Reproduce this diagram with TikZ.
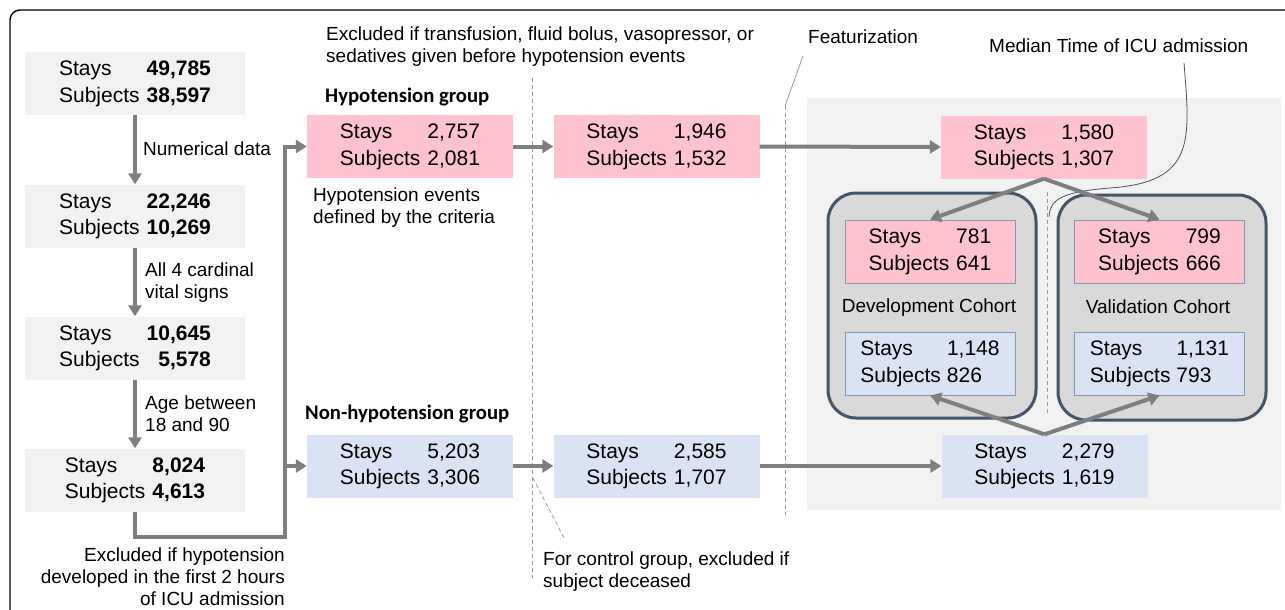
\documentclass[tikz,border=0pt]{standalone}
\usepackage{fontspec}
\setmainfont{Liberation Sans}
\newfontfamily\grpfont{Carlito}
\usetikzlibrary{arrows.meta}
\definecolor{pinkbox}{HTML}{FFC3D0}
\definecolor{bluebox}{HTML}{DAE3F3}
\definecolor{graybox}{HTML}{F2F2F2}
\definecolor{cohortfill}{HTML}{D9D9D9}
\definecolor{cohortline}{HTML}{44546A}
\definecolor{flowgray}{HTML}{7F7F7F}
\definecolor{dashgray}{HTML}{9A9A9A}
\definecolor{innerline}{HTML}{8497B0}
\newcommand{\cnt}[2]{\begin{tabular}{@{}l@{\hspace{7pt}}r@{}}Stays & #1\\Subjects & #2\end{tabular}}
\newcommand{\cntl}[2]{\begin{tabular}{@{}l@{\hspace{6pt}}l@{}}Stays & #1\\Subjects & #2\end{tabular}}
\begin{document}
\begin{tikzpicture}[x=1pt,y=-1pt,
  stat/.style={inner sep=0pt, minimum height=63pt, font=\fontsize{21}{26.5}\selectfont},
  gbox/.style={stat, fill=graybox, minimum width=220pt},
  pbox/.style={stat, fill=pinkbox, minimum width=206pt},
  bbox/.style={stat, fill=bluebox, minimum width=206pt},
  ipbox/.style={stat, fill=pinkbox, draw=innerline, line width=1pt, minimum width=170pt},
  ibbox/.style={stat, fill=bluebox, draw=innerline, line width=1pt, minimum width=170pt},
  cohort/.style={draw=cohortline, fill=cohortfill, line width=3pt, rounded corners=28pt, minimum width=208pt, minimum height=225pt, inner sep=0pt},
  note/.style={inner sep=0pt, font=\fontsize{19}{22}\selectfont, align=left},
  grp/.style={inner sep=0pt, font=\grpfont\bfseries\fontsize{20.7}{24}\selectfont},
  flow/.style={draw=flowgray, line width=4pt, -{Triangle[length=11pt,width=13pt]}},
  guide/.style={draw=dashgray, line width=0.8pt, dash pattern=on 4pt off 3pt},
]
\useasboundingbox (0,0) rectangle (1285,610);
\fill[white] (0,0) rectangle (1285,610);
% outer frame
\draw[line width=1.4pt, rounded corners=10pt] (10,620) -- (10,10) -- (1295,10);
% featurization background
\node[fill=graybox, minimum width=474pt, minimum height=412pt, inner sep=0pt, anchor=north west] (featbg) at (807,98) {};

% guide lines
\coordinate (g1top) at (532,78);
\coordinate (g1bot) at (532,578);
\draw[guide] (g1top) -- (g1bot);
\coordinate (ctrlA) at (533,478);
\coordinate (ctrlB) at (565,540);
\draw[guide] (ctrlA) -- (ctrlB);
\coordinate (featA) at (803,56);
\coordinate (featB) at (785,106);
\coordinate (featC) at (785,515);
\draw[dashgray, line width=0.8pt] (featA) -- (featB);
\draw[guide] (featB) -- (featC);

% cohorts
\node[cohort] (dev) at (932,305.5) {};
\node[cohort] (val) at (1162,307.5) {};
\coordinate (splitA) at (1047,192);
\coordinate (splitB) at (1047,415);
\draw[guide] (splitA) -- (splitB);

% left column
\node[gbox] (L1) at (135,83.5) {\cnt{\textbf{49,785}}{\textbf{38,597}}};
\node[gbox] (L2) at (135,216) {\cnt{\textbf{22,246}}{\textbf{10,269}}};
\node[gbox] (L3) at (135,348) {\cnt{\textbf{10,645}}{\textbf{5,578}}};
\node[gbox] (L4) at (135,480) {\cnt{\textbf{8,024}}{\textbf{4,613}}};

% hypotension row
\node[pbox] (H1) at (410,146.5) {\cnt{2,757}{2,081}};
\node[pbox] (H2) at (656.5,146.5) {\cnt{1,946}{1,532}};
\node[pbox] (H3) at (1044,147) {\cnt{1,580}{1,307}};
% non-hypotension row
\node[bbox] (N1) at (410,466) {\cnt{5,203}{3,306}};
\node[bbox] (N2) at (656.5,466) {\cnt{2,585}{1,707}};
\node[bbox] (N3) at (1044.5,466) {\cnt{2,279}{1,619}};
% cohort inner boxes
\node[ipbox] (DP) at (930,251.5) {\cnt{781}{641}};
\node[ibbox] (DB) at (930,363.5) {\cntl{1,148}{826}};
\node[ipbox] (VP) at (1159.5,251.5) {\cnt{799}{666}};
\node[ibbox] (VB) at (1159.5,363.5) {\cntl{1,131}{793}};

% labels
\node[note, anchor=base] (devlbl) at (929,312) {Development Cohort};
\node[note, anchor=base] (vallbl) at (1158,313) {Validation Cohort};
\node[note, anchor=north west] (t1) at (143,142) {Numerical data};
\node[note, anchor=north west] (t2) at (145,263) {All 4 cardinal\\vital signs};
\node[note, anchor=north west] (t3) at (145,396) {Age between\\18 and 90};
\node[note, anchor=north east, align=right] (t4) at (285,548) {Excluded if hypotension\\developed in the first 2 hours\\of ICU admission};
\node[grp, anchor=base west] (hg) at (325,102) {Hypotension group};
\node[grp, anchor=base west] (nhg) at (305,419) {Non-hypotension group};
\node[note, anchor=north west] (t5) at (313,188) {Hypotension events\\defined by the criteria};
\node[note, anchor=north west] (t6) at (326,27) {Excluded if transfusion, fluid bolus, vasopressor, or\\sedatives given before hypotension events};
\node[note, anchor=base west] (t7) at (808,44) {Featurization};
\node[note, anchor=base west] (t8) at (989,53) {Median Time of ICU admission};
\node[note, anchor=north west] (t9) at (543,552) {For control group, excluded if\\subject deceased};

% median curve
\coordinate (medA) at (1184,63);
\coordinate (medB) at (1049,217);
\draw[cohortline, line width=0.8pt] (medA) .. controls (1190,140) and (1196,182) .. (1110,188) .. controls (1060,192) and (1050,200) .. (medB);

% arrows left column
\draw[flow] (L1.south) -- (L2.north);
\draw[flow] (L2.south) -- (L3.north);
\draw[flow] (L3.south) -- (L4.north);
\coordinate (bus) at (285,537);
\draw[flow, line join=miter] (L4.south) |- (bus) |- (H1.west);
\draw[flow] (bus |- N1.west) -- (N1.west);
% horizontal arrows
\draw[flow] (H1.east) -- (H2.west);
\draw[flow] (H2.east) -- (H3.west);
\draw[flow] (N1.east) -- (N2.west);
\draw[flow] (N2.east) -- (N3.west);
% split arrows
\draw[flow] (H3.south) -- (DP.north);
\draw[flow] (H3.south) -- (VP.north);
\draw[flow] (N3.north) -- (DB.south);
\draw[flow] (N3.north) -- (VB.south);
\end{tikzpicture}
\end{document}
